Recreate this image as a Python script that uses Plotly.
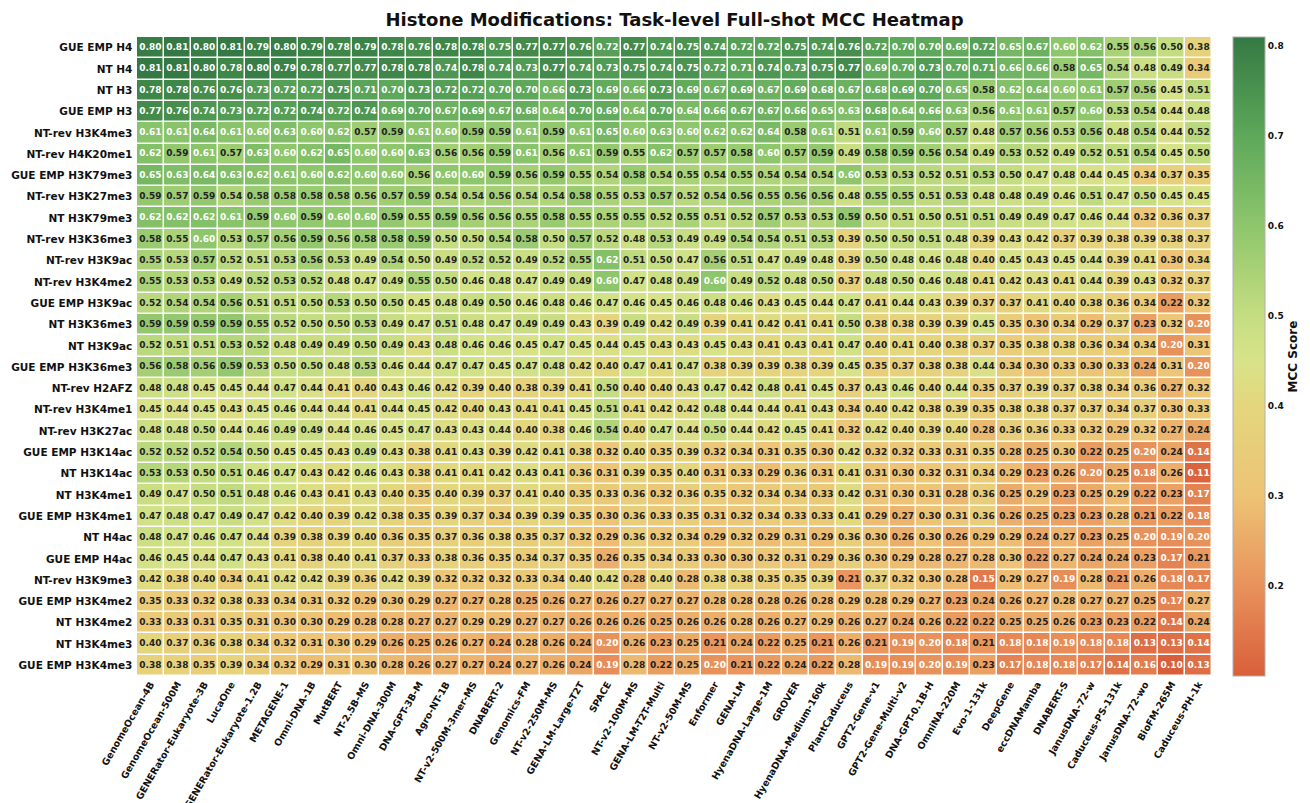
import plotly.graph_objects as go

columns = ["GenomeOcean-4B", "GenomeOcean-500M", "GENERator-Eukaryote-3B", "LucaOne",
           "GENERator-Eukaryote-1.2B", "METAGENE-1", "Omni-DNA-1B", "MutBERT", "NT-2.5B-MS",
           "Omni-DNA-300M", "DNA-GPT-3B-M", "Agro-NT-1B", "NT-v2-500M-3mer-MS", "DNABERT-2",
           "Genomics-FM", "NT-v2-250M-MS", "GENA-LM-Large-T2T", "SPACE", "NT-v2-100M-MS",
           "GENA-LM-T2T-Multi", "NT-v2-50M-MS", "Enformer", "GENA-LM", "HyenaDNA-Large-1M",
           "GROVER", "HyenaDNA-Medium-160k", "PlantCaduceus", "GPT2-Gene-v1",
           "GPT2-Gene-Multi-v2", "DNA-GPT-0.1B-H", "OmniNA-220M", "Evo-1-131k", "DeepGene",
           "eccDNAMamba", "DNABERT-S", "JanusDNA-72-w", "Caduceus-PS-131k", "JanusDNA-72-wo",
           "BioFM-265M", "Caduceus-PH-1k"]

rows = ["GUE EMP H4", "NT H4", "NT H3", "GUE EMP H3", "NT-rev H3K4me3", "NT-rev H4K20me1",
        "GUE EMP H3K79me3", "NT-rev H3K27me3", "NT H3K79me3", "NT-rev H3K36me3",
        "NT-rev H3K9ac", "NT-rev H3K4me2", "GUE EMP H3K9ac", "NT H3K36me3", "NT H3K9ac",
        "GUE EMP H3K36me3", "NT-rev H2AFZ", "NT-rev H3K4me1", "NT-rev H3K27ac",
        "GUE EMP H3K14ac", "NT H3K14ac", "NT H3K4me1", "GUE EMP H3K4me1", "NT H4ac",
        "GUE EMP H4ac", "NT-rev H3K9me3", "GUE EMP H3K4me2", "NT H3K4me2", "NT H3K4me3",
        "GUE EMP H3K4me3"]

gue_emp_h4 = [0.80, 0.81, 0.80, 0.81, 0.79, 0.80, 0.79, 0.78, 0.79, 0.78, 0.76, 0.78, 0.78, 0.75, 0.77, 0.77, 0.76, 0.72, 0.77, 0.74, 0.75, 0.74, 0.72, 0.72, 0.75, 0.74, 0.76, 0.72, 0.70, 0.70, 0.69, 0.72, 0.65, 0.67, 0.60, 0.62, 0.55, 0.56, 0.50, 0.38]
nt_h4 = [0.81, 0.81, 0.80, 0.78, 0.80, 0.79, 0.78, 0.77, 0.77, 0.78, 0.78, 0.74, 0.78, 0.74, 0.73, 0.77, 0.74, 0.73, 0.75, 0.74, 0.75, 0.72, 0.71, 0.74, 0.73, 0.75, 0.77, 0.69, 0.70, 0.73, 0.70, 0.71, 0.66, 0.66, 0.58, 0.65, 0.54, 0.48, 0.49, 0.34]
nt_h3 = [0.78, 0.78, 0.76, 0.76, 0.73, 0.72, 0.72, 0.75, 0.71, 0.70, 0.73, 0.72, 0.72, 0.70, 0.70, 0.66, 0.73, 0.69, 0.66, 0.73, 0.69, 0.67, 0.69, 0.67, 0.69, 0.68, 0.67, 0.68, 0.69, 0.70, 0.65, 0.58, 0.62, 0.64, 0.60, 0.61, 0.57, 0.56, 0.45, 0.51]
gue_emp_h3 = [0.77, 0.76, 0.74, 0.73, 0.72, 0.72, 0.74, 0.72, 0.74, 0.69, 0.70, 0.67, 0.69, 0.67, 0.68, 0.64, 0.70, 0.69, 0.64, 0.70, 0.64, 0.66, 0.67, 0.67, 0.66, 0.65, 0.63, 0.68, 0.64, 0.66, 0.63, 0.56, 0.61, 0.61, 0.57, 0.60, 0.53, 0.54, 0.44, 0.48]
ntrev_h3k4me3 = [0.61, 0.61, 0.64, 0.61, 0.60, 0.63, 0.60, 0.62, 0.57, 0.59, 0.61, 0.60, 0.59, 0.59, 0.61, 0.59, 0.61, 0.65, 0.60, 0.63, 0.60, 0.62, 0.62, 0.64, 0.58, 0.61, 0.51, 0.61, 0.59, 0.60, 0.57, 0.48, 0.57, 0.56, 0.53, 0.56, 0.48, 0.54, 0.44, 0.52]
ntrev_h4k20me1 = [0.62, 0.59, 0.61, 0.57, 0.63, 0.60, 0.62, 0.65, 0.60, 0.60, 0.63, 0.56, 0.56, 0.59, 0.61, 0.56, 0.61, 0.59, 0.55, 0.62, 0.57, 0.57, 0.58, 0.60, 0.57, 0.59, 0.49, 0.58, 0.59, 0.56, 0.54, 0.49, 0.53, 0.52, 0.49, 0.52, 0.51, 0.54, 0.45, 0.50]
gue_emp_h3k79me3 = [0.65, 0.63, 0.64, 0.63, 0.62, 0.61, 0.60, 0.62, 0.60, 0.60, 0.56, 0.60, 0.60, 0.59, 0.56, 0.59, 0.55, 0.54, 0.58, 0.54, 0.55, 0.54, 0.55, 0.54, 0.54, 0.54, 0.60, 0.53, 0.53, 0.52, 0.51, 0.53, 0.50, 0.47, 0.48, 0.44, 0.45, 0.34, 0.37, 0.35]
ntrev_h3k27me3 = [0.59, 0.57, 0.59, 0.54, 0.58, 0.58, 0.58, 0.58, 0.56, 0.57, 0.59, 0.54, 0.54, 0.56, 0.54, 0.54, 0.58, 0.55, 0.53, 0.57, 0.52, 0.54, 0.56, 0.55, 0.56, 0.56, 0.48, 0.55, 0.55, 0.51, 0.53, 0.48, 0.48, 0.49, 0.46, 0.51, 0.47, 0.50, 0.45, 0.45]
nt_h3k79me3 = [0.62, 0.62, 0.62, 0.61, 0.59, 0.60, 0.59, 0.60, 0.60, 0.59, 0.55, 0.59, 0.56, 0.56, 0.55, 0.58, 0.55, 0.55, 0.55, 0.52, 0.55, 0.51, 0.52, 0.57, 0.53, 0.53, 0.59, 0.50, 0.51, 0.50, 0.51, 0.51, 0.49, 0.49, 0.47, 0.46, 0.44, 0.32, 0.36, 0.37]
ntrev_h3k36me3 = [0.58, 0.55, 0.60, 0.53, 0.57, 0.56, 0.59, 0.56, 0.58, 0.58, 0.59, 0.50, 0.50, 0.54, 0.58, 0.50, 0.57, 0.52, 0.48, 0.53, 0.49, 0.49, 0.54, 0.54, 0.51, 0.53, 0.39, 0.50, 0.50, 0.51, 0.48, 0.39, 0.43, 0.42, 0.37, 0.39, 0.38, 0.39, 0.38, 0.37]
ntrev_h3k9ac = [0.55, 0.53, 0.57, 0.52, 0.51, 0.53, 0.56, 0.53, 0.49, 0.54, 0.50, 0.49, 0.52, 0.52, 0.49, 0.52, 0.55, 0.62, 0.51, 0.50, 0.47, 0.56, 0.51, 0.47, 0.49, 0.48, 0.39, 0.50, 0.48, 0.46, 0.48, 0.40, 0.45, 0.43, 0.45, 0.44, 0.39, 0.41, 0.30, 0.34]
ntrev_h3k4me2 = [0.55, 0.53, 0.53, 0.49, 0.52, 0.53, 0.52, 0.48, 0.47, 0.49, 0.55, 0.50, 0.46, 0.48, 0.47, 0.49, 0.49, 0.60, 0.47, 0.48, 0.49, 0.60, 0.49, 0.52, 0.48, 0.50, 0.37, 0.48, 0.50, 0.46, 0.48, 0.41, 0.42, 0.43, 0.41, 0.44, 0.39, 0.43, 0.32, 0.37]
gue_emp_h3k9ac = [0.52, 0.54, 0.54, 0.56, 0.51, 0.51, 0.50, 0.53, 0.50, 0.50, 0.45, 0.48, 0.49, 0.50, 0.46, 0.48, 0.46, 0.47, 0.46, 0.45, 0.46, 0.48, 0.46, 0.43, 0.45, 0.44, 0.47, 0.41, 0.44, 0.43, 0.39, 0.37, 0.37, 0.41, 0.40, 0.38, 0.36, 0.34, 0.22, 0.32]
nt_h3k36me3 = [0.59, 0.59, 0.59, 0.59, 0.55, 0.52, 0.50, 0.50, 0.53, 0.49, 0.47, 0.51, 0.48, 0.47, 0.49, 0.49, 0.43, 0.39, 0.49, 0.42, 0.49, 0.39, 0.41, 0.42, 0.41, 0.41, 0.50, 0.38, 0.38, 0.39, 0.39, 0.45, 0.35, 0.30, 0.34, 0.29, 0.37, 0.23, 0.32, 0.20]
nt_h3k9ac = [0.52, 0.51, 0.51, 0.53, 0.52, 0.48, 0.49, 0.49, 0.50, 0.49, 0.43, 0.48, 0.46, 0.46, 0.45, 0.47, 0.45, 0.44, 0.45, 0.43, 0.43, 0.45, 0.43, 0.41, 0.43, 0.41, 0.47, 0.40, 0.41, 0.40, 0.38, 0.37, 0.35, 0.38, 0.38, 0.36, 0.34, 0.34, 0.20, 0.31]
gue_emp_h3k36me3 = [0.56, 0.58, 0.56, 0.59, 0.53, 0.50, 0.50, 0.48, 0.53, 0.46, 0.44, 0.47, 0.47, 0.45, 0.47, 0.48, 0.42, 0.40, 0.47, 0.41, 0.47, 0.38, 0.39, 0.39, 0.38, 0.39, 0.45, 0.35, 0.37, 0.38, 0.38, 0.44, 0.34, 0.30, 0.33, 0.30, 0.33, 0.24, 0.31, 0.20]
ntrev_h2afz = [0.48, 0.48, 0.45, 0.45, 0.44, 0.47, 0.44, 0.41, 0.40, 0.43, 0.46, 0.42, 0.39, 0.40, 0.38, 0.39, 0.41, 0.50, 0.40, 0.40, 0.43, 0.47, 0.42, 0.48, 0.41, 0.45, 0.37, 0.43, 0.46, 0.40, 0.44, 0.35, 0.37, 0.39, 0.37, 0.38, 0.34, 0.36, 0.27, 0.32]
ntrev_h3k4me1 = [0.45, 0.44, 0.45, 0.43, 0.45, 0.46, 0.44, 0.44, 0.41, 0.44, 0.45, 0.42, 0.40, 0.43, 0.41, 0.41, 0.45, 0.51, 0.41, 0.42, 0.42, 0.48, 0.44, 0.44, 0.41, 0.43, 0.34, 0.40, 0.42, 0.38, 0.39, 0.35, 0.38, 0.38, 0.37, 0.37, 0.34, 0.37, 0.30, 0.33]
ntrev_h3k27ac = [0.48, 0.48, 0.50, 0.44, 0.46, 0.49, 0.49, 0.44, 0.46, 0.45, 0.47, 0.43, 0.43, 0.44, 0.40, 0.38, 0.46, 0.54, 0.40, 0.47, 0.44, 0.50, 0.44, 0.42, 0.45, 0.41, 0.32, 0.42, 0.40, 0.39, 0.40, 0.28, 0.36, 0.36, 0.33, 0.32, 0.29, 0.32, 0.27, 0.24]
gue_emp_h3k14ac = [0.52, 0.52, 0.52, 0.54, 0.50, 0.45, 0.45, 0.43, 0.49, 0.43, 0.38, 0.41, 0.43, 0.39, 0.42, 0.41, 0.38, 0.32, 0.40, 0.35, 0.39, 0.32, 0.34, 0.31, 0.35, 0.30, 0.42, 0.32, 0.32, 0.33, 0.31, 0.35, 0.28, 0.25, 0.30, 0.22, 0.25, 0.20, 0.24, 0.14]
nt_h3k14ac = [0.53, 0.53, 0.50, 0.51, 0.46, 0.47, 0.43, 0.42, 0.46, 0.43, 0.38, 0.41, 0.41, 0.42, 0.43, 0.41, 0.36, 0.31, 0.39, 0.35, 0.40, 0.31, 0.33, 0.29, 0.36, 0.31, 0.41, 0.31, 0.30, 0.32, 0.31, 0.34, 0.29, 0.23, 0.26, 0.20, 0.25, 0.18, 0.26, 0.11]
nt_h3k4me1 = [0.49, 0.47, 0.50, 0.51, 0.48, 0.46, 0.43, 0.41, 0.43, 0.40, 0.35, 0.40, 0.39, 0.37, 0.41, 0.40, 0.35, 0.33, 0.36, 0.32, 0.36, 0.35, 0.32, 0.34, 0.34, 0.33, 0.42, 0.31, 0.30, 0.31, 0.28, 0.36, 0.25, 0.29, 0.23, 0.25, 0.29, 0.22, 0.23, 0.17]
gue_emp_h3k4me1 = [0.47, 0.48, 0.47, 0.49, 0.47, 0.42, 0.40, 0.39, 0.42, 0.38, 0.35, 0.39, 0.37, 0.34, 0.39, 0.39, 0.35, 0.30, 0.36, 0.33, 0.35, 0.31, 0.32, 0.34, 0.33, 0.33, 0.41, 0.29, 0.27, 0.30, 0.31, 0.36, 0.26, 0.25, 0.23, 0.23, 0.28, 0.21, 0.22, 0.18]
nt_h4ac = [0.48, 0.47, 0.46, 0.47, 0.44, 0.39, 0.38, 0.39, 0.40, 0.36, 0.35, 0.37, 0.36, 0.38, 0.35, 0.37, 0.32, 0.29, 0.36, 0.32, 0.34, 0.29, 0.32, 0.29, 0.31, 0.29, 0.36, 0.30, 0.26, 0.30, 0.26, 0.29, 0.29, 0.24, 0.27, 0.23, 0.25, 0.20, 0.19, 0.20]
gue_emp_h4ac = [0.46, 0.45, 0.44, 0.47, 0.43, 0.41, 0.38, 0.40, 0.41, 0.37, 0.33, 0.38, 0.36, 0.35, 0.34, 0.37, 0.35, 0.26, 0.35, 0.34, 0.33, 0.30, 0.30, 0.32, 0.31, 0.29, 0.36, 0.30, 0.29, 0.28, 0.27, 0.28, 0.30, 0.22, 0.27, 0.24, 0.24, 0.23, 0.17, 0.21]
ntrev_h3k9me3 = [0.42, 0.38, 0.40, 0.34, 0.41, 0.42, 0.42, 0.39, 0.36, 0.42, 0.39, 0.32, 0.32, 0.32, 0.33, 0.34, 0.40, 0.42, 0.28, 0.40, 0.28, 0.38, 0.38, 0.35, 0.35, 0.39, 0.21, 0.37, 0.32, 0.30, 0.28, 0.15, 0.29, 0.27, 0.19, 0.28, 0.21, 0.26, 0.18, 0.17]
gue_emp_h3k4me2 = [0.35, 0.33, 0.32, 0.38, 0.33, 0.34, 0.31, 0.32, 0.29, 0.30, 0.29, 0.27, 0.27, 0.28, 0.25, 0.26, 0.27, 0.26, 0.27, 0.27, 0.27, 0.28, 0.28, 0.28, 0.26, 0.28, 0.29, 0.28, 0.29, 0.27, 0.23, 0.24, 0.26, 0.27, 0.28, 0.27, 0.27, 0.25, 0.17, 0.27]
nt_h3k4me2 = [0.33, 0.33, 0.31, 0.35, 0.31, 0.30, 0.30, 0.29, 0.28, 0.28, 0.27, 0.27, 0.29, 0.29, 0.27, 0.27, 0.26, 0.26, 0.26, 0.25, 0.26, 0.26, 0.28, 0.26, 0.27, 0.29, 0.26, 0.27, 0.24, 0.26, 0.22, 0.22, 0.25, 0.25, 0.26, 0.23, 0.23, 0.22, 0.14, 0.24]
nt_h3k4me3 = [0.40, 0.37, 0.36, 0.38, 0.34, 0.32, 0.31, 0.30, 0.29, 0.26, 0.25, 0.26, 0.27, 0.24, 0.28, 0.26, 0.24, 0.20, 0.26, 0.23, 0.25, 0.21, 0.24, 0.22, 0.25, 0.21, 0.26, 0.21, 0.19, 0.20, 0.18, 0.21, 0.18, 0.18, 0.19, 0.18, 0.18, 0.13, 0.13, 0.14]
gue_emp_h3k4me3 = [0.38, 0.38, 0.35, 0.39, 0.34, 0.32, 0.29, 0.31, 0.30, 0.28, 0.26, 0.27, 0.27, 0.24, 0.27, 0.26, 0.24, 0.19, 0.28, 0.22, 0.25, 0.20, 0.21, 0.22, 0.24, 0.22, 0.28, 0.19, 0.19, 0.20, 0.19, 0.23, 0.17, 0.18, 0.18, 0.17, 0.14, 0.16, 0.10, 0.13]

mcc = [gue_emp_h4, nt_h4, nt_h3, gue_emp_h3, ntrev_h3k4me3, ntrev_h4k20me1, gue_emp_h3k79me3,
       ntrev_h3k27me3, nt_h3k79me3, ntrev_h3k36me3, ntrev_h3k9ac, ntrev_h3k4me2, gue_emp_h3k9ac,
       nt_h3k36me3, nt_h3k9ac, gue_emp_h3k36me3, ntrev_h2afz, ntrev_h3k4me1, ntrev_h3k27ac,
       gue_emp_h3k14ac, nt_h3k14ac, nt_h3k4me1, gue_emp_h3k4me1, nt_h4ac, gue_emp_h4ac,
       ntrev_h3k9me3, gue_emp_h3k4me2, nt_h3k4me2, nt_h3k4me3, gue_emp_h3k4me3]

colorbar_ticks = [0.2, 0.3, 0.4, 0.5, 0.6, 0.7, 0.8]

FONT = "DejaVu Sans"
flat = [v for r in mcc for v in r]
zmin, zmax = min(flat), max(flat)

# colour stops by value
stops = [(0.10, "#d95f3b"), (0.20, "#e8925b"), (0.30, "#edc375"), (0.40, "#e4d67d"),
         (0.45, "#d8e389"), (0.50, "#c5dd81"), (0.60, "#8ec66c"), (0.70, "#5da85a"),
         (0.81, "#347943")]
colorscale = []
for v, c in stops:
    p = (v - zmin) / (zmax - zmin)
    p = min(max(p, 0.0), 1.0)
    colorscale.append([p, c])
colorscale[0][0] = 0.0
colorscale[-1][0] = 1.0

fig = go.Figure()
fig.add_trace(go.Heatmap(
    z=mcc, x=columns, y=rows, zmin=zmin, zmax=zmax, colorscale=colorscale,
    xgap=1.5, ygap=1.5, hoverinfo="skip",
    colorbar=dict(
        x=1.0195, xanchor="left", xref="paper", y=0.5, yanchor="middle", len=1,
        thickness=32, xpad=0, ypad=0, outlinecolor="#b0b0b0", outlinewidth=1,
        tickvals=colorbar_ticks, ticktext=[f"{t:.1f}" for t in colorbar_ticks],
        ticks="",
        tickfont=dict(family=FONT, size=9, color="#111", weight="bold"),
        title=dict(text="MCC Score", side="right",
                   font=dict(family=FONT, size=12, color="#111", weight="bold")),
    ),
))

# cell labels
xs, ys, ts, cs = [], [], [], []
for i, r in enumerate(rows):
    for j, c in enumerate(columns):
        v = mcc[i][j]
        xs.append(c)
        ys.append(r)
        ts.append(f"{v:.2f}")
        cs.append("white" if (v >= 0.60 or v <= 0.20) else "#222222")
fig.add_trace(go.Scatter(
    x=xs, y=ys, text=ts, mode="text", hoverinfo="skip", showlegend=False,
    textfont=dict(family=FONT, size=9, color=cs, weight="bold"),
))

fig.update_layout(
    width=1310, height=803,
    margin=dict(l=129, r=106, t=29, b=135, autoexpand=False),
    paper_bgcolor="white", plot_bgcolor="white",
    title=dict(text="Histone Modifications: Task-level Full-shot MCC Heatmap",
               x=0.5, xref="paper", xanchor="center", y=1 - 12 / 803, yref="container",
               yanchor="middle",
               font=dict(family=FONT, size=18, color="#111", weight="bold")),
    xaxis=dict(categoryorder="array", categoryarray=columns, tickangle=-60,
               range=[-0.5, len(columns) - 0.5], autorange=False,
               tickfont=dict(family=FONT, size=9.5, color="#111", weight="bold"),
               showgrid=False, zeroline=False, ticks="", showline=False, automargin=False),
    yaxis=dict(categoryorder="array", categoryarray=rows,
               range=[len(rows) - 0.5, -0.5], autorange=False,
               tickfont=dict(family=FONT, size=10.5, color="#111", weight="bold"),
               showgrid=False, zeroline=False, ticks="", showline=False, automargin=False,
               ticksuffix=" "),
    showlegend=False,
)

fig.write_html("out.html")
